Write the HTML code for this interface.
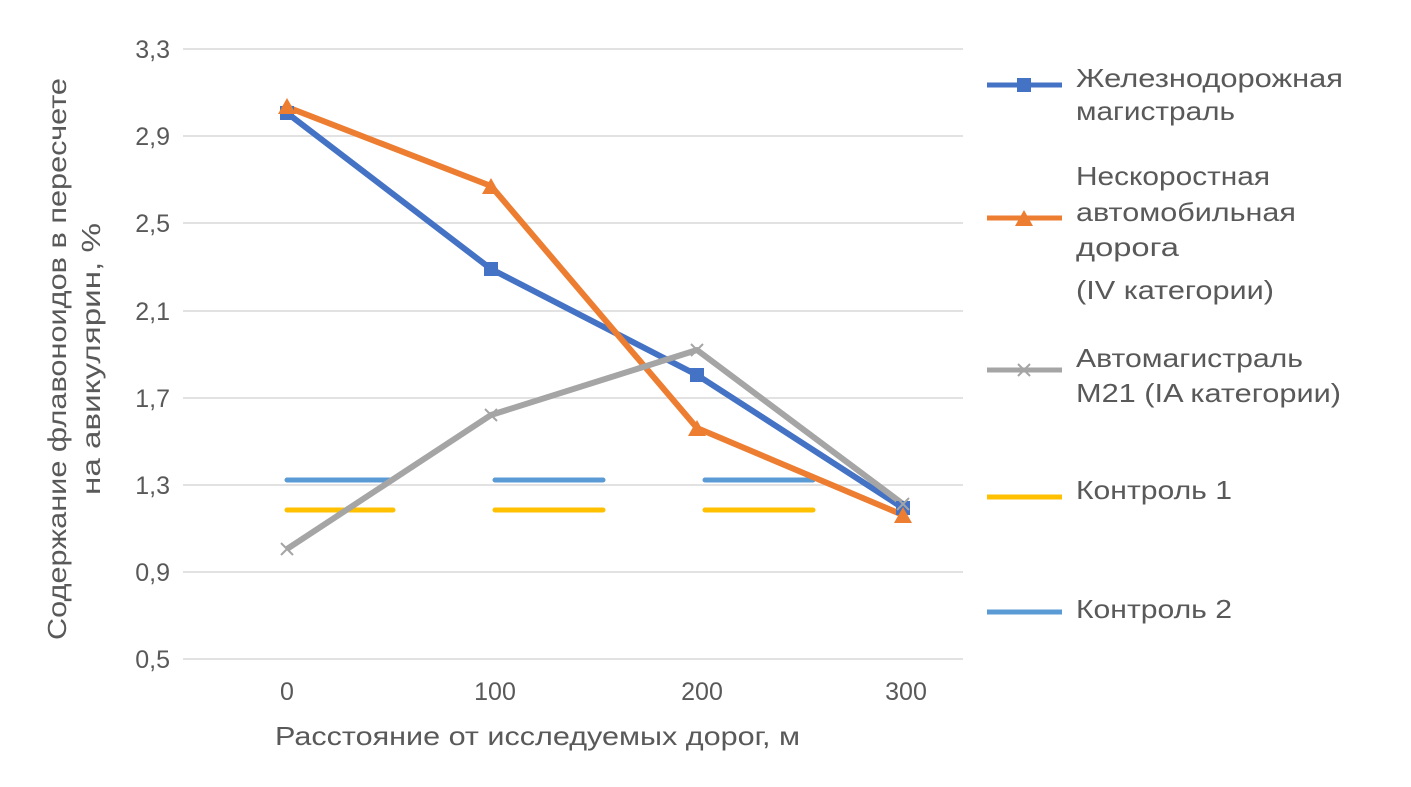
<!DOCTYPE html>
<html><head><meta charset="utf-8"><style>body{margin:0;background:#fff}</style></head><body>
<svg width="1411" height="782" xmlns="http://www.w3.org/2000/svg" font-family="Liberation Sans, sans-serif" fill="#595959">
<g stroke="#d9d9d9" stroke-width="1.5">
<line x1="183" x2="963" y1="49" y2="49"/><line x1="183" x2="963" y1="136" y2="136"/><line x1="183" x2="963" y1="223" y2="223"/><line x1="183" x2="963" y1="311" y2="311"/><line x1="183" x2="963" y1="398" y2="398"/><line x1="183" x2="963" y1="485" y2="485"/><line x1="183" x2="963" y1="572" y2="572"/><line x1="183" x2="963" y1="659" y2="659"/>
</g>
<g font-size="25" text-anchor="end">
<text x="170" y="58">3,3</text><text x="170" y="145">2,9</text><text x="170" y="232">2,5</text><text x="170" y="320">2,1</text><text x="170" y="407">1,7</text><text x="170" y="494">1,3</text><text x="170" y="581">0,9</text><text x="170" y="668">0,5</text>
</g>
<g font-size="25" text-anchor="middle">
<text x="287" y="700">0</text><text x="495" y="700">100</text><text x="702" y="700">200</text><text x="906" y="700">300</text>
</g>
<g font-size="26">
<text x="275" y="745" textLength="525" lengthAdjust="spacingAndGlyphs">Расстояние от исследуемых дорог, м</text>
<text transform="translate(66,640) rotate(-90)" textLength="562" lengthAdjust="spacingAndGlyphs">Содержание флавоноидов в пересчете</text>
<text transform="translate(100,495) rotate(-90)" textLength="272" lengthAdjust="spacingAndGlyphs">на авикулярин, %</text>
</g>
<g stroke-width="5" stroke-linecap="round">
<line x1="287" x2="393" y1="480" y2="480" stroke="#5b9bd5"/><line x1="495" x2="603" y1="480" y2="480" stroke="#5b9bd5"/><line x1="705" x2="813" y1="480" y2="480" stroke="#5b9bd5"/>
<line x1="287" x2="393" y1="510" y2="510" stroke="#ffc000"/><line x1="495" x2="603" y1="510" y2="510" stroke="#ffc000"/><line x1="705" x2="813" y1="510" y2="510" stroke="#ffc000"/>
</g>
<g fill="none" stroke-width="6" stroke-linejoin="round">
<polyline points="287,113 491,269 697,375 903,508" stroke="#4472c4"/>
<polyline points="287,107 491,186 697,428 903,515" stroke="#ed7d31"/>
<polyline points="287,549 491,415 697,350 903,504" stroke="#a5a5a5"/>
</g>
<g fill="#4472c4"><rect x="280" y="106" width="14" height="14"/><rect x="484" y="262" width="14" height="14"/><rect x="690" y="368" width="14" height="14"/><rect x="896" y="501" width="14" height="14"/></g>
<g fill="#ed7d31"><polygon points="287,98 278,114 296,114"/><polygon points="491,178 482,194 500,194"/><polygon points="697,420 688,436 706,436"/><polygon points="903,507 894,523 912,523"/></g>
<g stroke="#a5a5a5" stroke-width="2"><path d="M281,543l12,12M293,543l-12,12M485,409l12,12M497,409l-12,12M691,344l12,12M703,344l-12,12M897,498l12,12M909,498l-12,12"/></g>
<g stroke-width="5">
<line x1="987" x2="1062" y1="85" y2="85" stroke="#4472c4"/>
<line x1="987" x2="1062" y1="218" y2="218" stroke="#ed7d31"/>
<line x1="987" x2="1062" y1="370" y2="370" stroke="#a5a5a5"/>
<line x1="987" x2="1062" y1="497" y2="497" stroke="#ffc000"/>
<line x1="987" x2="1062" y1="612" y2="612" stroke="#5b9bd5"/>
</g>
<rect x="1017" y="78" width="14" height="14" fill="#4472c4"/>
<polygon points="1024,210 1015,226 1033,226" fill="#ed7d31"/>
<path d="M1018,364l12,12M1030,364l-12,12" stroke="#a5a5a5" stroke-width="2"/>
<g font-size="26">
<text x="1076" y="87" textLength="267" lengthAdjust="spacingAndGlyphs">Железнодорожная</text><text x="1076" y="120" textLength="159" lengthAdjust="spacingAndGlyphs">магистраль</text>
<text x="1076" y="185" textLength="194" lengthAdjust="spacingAndGlyphs">Нескоростная</text><text x="1076" y="221" textLength="220" lengthAdjust="spacingAndGlyphs">автомобильная</text><text x="1076" y="256" textLength="103" lengthAdjust="spacingAndGlyphs">дорога</text><text x="1076" y="299" textLength="198" lengthAdjust="spacingAndGlyphs">(IV категории)</text>
<text x="1076" y="367" textLength="227" lengthAdjust="spacingAndGlyphs">Автомагистраль</text><text x="1076" y="402" textLength="265" lengthAdjust="spacingAndGlyphs">М21 (IA категории)</text>
<text x="1076" y="499" textLength="156" lengthAdjust="spacingAndGlyphs">Контроль 1</text>
<text x="1076" y="618" textLength="156" lengthAdjust="spacingAndGlyphs">Контроль 2</text>
</g>
</svg>
</body></html>
